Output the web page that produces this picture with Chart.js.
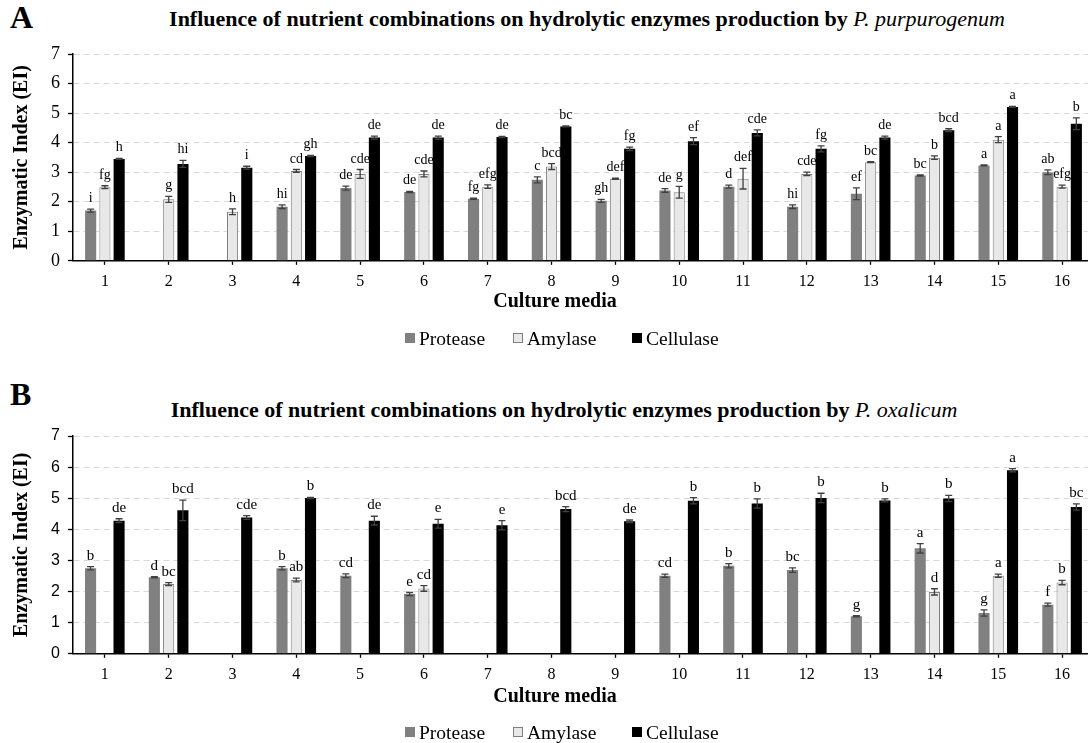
<!DOCTYPE html>
<html>
<head>
<meta charset="utf-8">
<script src="https://cdn.jsdelivr.net/npm/chart.js@4.4.0/dist/chart.umd.min.js"></script>
<style>
    body { margin: 0; width: 1088px; height: 743px; overflow: hidden; background: #fff; position: relative; font-family: "Liberation Serif", "Times New Roman", serif; color: #000; }
    .panel-letter { position: absolute; left: 10px; font-family: "Liberation Serif", serif; font-weight: bold; font-size: 32px; line-height: 32px; }
    .title { position: absolute; font-family: "Liberation Serif", serif; font-size: 22px; line-height: 22px; white-space: nowrap; transform: translateX(-50%); }
    .title b { font-weight: bold; }
    .title i { font-style: italic; font-weight: normal; }
    .x-title { position: absolute; font-family: "Liberation Serif", serif; font-weight: bold; font-size: 20px; line-height: 20px; white-space: nowrap; transform: translateX(-50%); }
    .chart-box { position: absolute; left: 0; }
    .legend-item { position: absolute; font-family: "Liberation Serif", "Times New Roman", serif; font-size: 19.5px; line-height: 19.5px; white-space: nowrap; }
    .swatch { position: absolute; width: 10px; height: 10px; box-sizing: border-box; }
</style>
</head>
<body>

<div class="panel-letter" style="top: 1px;">A</div>
<div class="title" style="left: 587px; top: 8px;"><b>Influence of nutrient combinations on hydrolytic enzymes production by </b><i>P. purpurogenum</i></div>
<div class="chart-box" style="top: 0px;"><canvas id="chartA" width="1100" height="330"></canvas></div>
<div class="x-title" style="left: 555px; top: 290px;">Culture media</div>
<div id="legendA"></div>

<div class="panel-letter" style="top: 378px;">B</div>
<div class="title" style="left: 564px; top: 399px;"><b>Influence of nutrient combinations on hydrolytic enzymes production by </b><i>P. oxalicum</i></div>
<div class="chart-box" style="top: 382px;"><canvas id="chartB" width="1100" height="341"></canvas></div>
<div class="x-title" style="left: 555px; top: 685px;">Culture media</div>
<div id="legendB"></div>

<script>
// Culture media (x categories)
const media = ['1', '2', '3', '4', '5', '6', '7', '8', '9', '10', '11', '12', '13', '14', '15', '16'];
const enzymes = ['Protease', 'Amylase', 'Cellulase'];

// Panel A - P. purpurogenum
const proteaseA  = [1.70, null, null, 1.83, 2.46, 2.33, 2.10, 2.74, 2.03, 2.38, 2.51, 1.83, 2.27, 2.89, 3.23, 3.00];
const amylaseA   = [2.49, 2.08, 1.66, 3.04, 2.94, 2.94, 2.51, 3.19, 2.78, 2.32, 2.78, 2.94, 3.34, 3.49, 4.10, 2.51];
const cellulaseA = [3.45, 3.28, 3.15, 3.55, 4.17, 4.17, 4.19, 4.55, 3.79, 4.05, 4.33, 3.79, 4.17, 4.42, 5.21, 4.64];
const proteaseErrA  = [0.05, null, null, 0.06, 0.07, 0.02, 0.02, 0.10, 0.05, 0.06, 0.05, 0.06, 0.20, 0.02, 0.02, 0.08];
const amylaseErrA   = [0.05, 0.10, 0.10, 0.05, 0.15, 0.10, 0.06, 0.10, 0.02, 0.20, 0.35, 0.06, 0.02, 0.06, 0.10, 0.05];
const cellulaseErrA = [0.02, 0.12, 0.05, 0.02, 0.05, 0.05, 0.02, 0.02, 0.06, 0.12, 0.10, 0.10, 0.05, 0.05, 0.02, 0.20];
const proteaseLetA  = ['i', '', '', 'hi', 'de', 'de', 'fg', 'c', 'gh', 'de', 'd', 'hi', 'ef', 'bc', 'a', 'ab'];
const amylaseLetA   = ['fg', 'g', 'h', 'cd', 'cde', 'cde', 'efg', 'bcd', 'def', 'g', 'def', 'cde', 'bc', 'b', 'a', 'efg'];
const cellulaseLetA = ['h', 'hi', 'i', 'gh', 'de', 'de', 'de', 'bc', 'fg', 'ef', 'cde', 'fg', 'de', 'bcd', 'a', 'b'];

// Panel B - P. oxalicum
const proteaseB  = [2.75, 2.46, null, 2.75, 2.51, 1.92, null, null, null, 2.51, 2.83, 2.69, 1.21, 3.39, 1.31, 1.58];
const amylaseB   = [null, 2.24, null, 2.37, null, 2.10, null, null, null, null, null, null, null, 1.99, 2.51, 2.29];
const cellulaseB = [4.28, 4.61, 4.38, 5.01, 4.28, 4.18, 4.13, 4.65, 4.26, 4.92, 4.83, 5.01, 4.93, 4.99, 5.90, 4.72];
const proteaseErrB  = [0.05, 0.02, null, 0.05, 0.06, 0.05, null, null, null, 0.05, 0.07, 0.07, 0.02, 0.15, 0.10, 0.05];
const amylaseErrB   = [null, 0.05, null, 0.06, null, 0.09, null, null, null, null, null, null, null, 0.10, 0.05, 0.07];
const cellulaseErrB = [0.06, 0.33, 0.06, 0.02, 0.14, 0.14, 0.15, 0.08, 0.04, 0.10, 0.15, 0.15, 0.05, 0.10, 0.05, 0.10];
const proteaseLetB  = ['b', 'd', '', 'b', 'cd', 'e', '', '', '', 'cd', 'b', 'bc', 'g', 'a', 'g', 'f'];
const amylaseLetB   = ['', 'bc', '', 'ab', '', 'cd', '', '', '', '', '', '', '', 'd', 'a', 'b'];
const cellulaseLetB = ['de', 'bcd', 'cde', 'b', 'de', 'e', 'e', 'bcd', 'de', 'b', 'b', 'b', 'b', 'b', 'a', 'bc'];

const yTicks = [0, 1, 2, 3, 4, 5, 6, 7];

const SERIF = '"Liberation Serif", "Times New Roman", serif';
const SANS = '"Liberation Sans", Arial, sans-serif';
const colors = {
    Protease:  { fill: '#808080', border: '#808080' },
    Amylase:   { fill: '#e8e8e8', border: '#7f7f7f' },
    Cellulase: { fill: '#000000', border: '#000000' }
};

// Error bars + significance letters on top of each bar
const errorLetters = {
    id: 'errorLetters',
    afterDatasetsDraw(chart, args, opts) {
        const ctx = chart.ctx;
        const yScale = chart.scales.y;
        chart.data.datasets.forEach((ds, i) => {
            const meta = chart.getDatasetMeta(i);
            meta.data.forEach((bar, j) => {
                const v = ds.data[j];
                if (v === null || v === undefined) return;
                const err = ds.errors[j] || 0;
                const x = bar.x;
                const yTop = yScale.getPixelForValue(v + err);
                const yBot = yScale.getPixelForValue(v - err);
                ctx.save();
                ctx.strokeStyle = '#404040';
                ctx.lineWidth = 1.3;
                ctx.beginPath();
                ctx.moveTo(x, yTop); ctx.lineTo(x, yBot);
                ctx.moveTo(x - 3.5, yTop); ctx.lineTo(x + 3.5, yTop);
                ctx.moveTo(x - 3.5, yBot); ctx.lineTo(x + 3.5, yBot);
                ctx.stroke();
                const letter = ds.letters[j];
                if (letter) {
                    ctx.fillStyle = '#000';
                    ctx.font = opts.letterSize + 'px ' + SERIF;
                    ctx.textAlign = 'center';
                    ctx.textBaseline = 'alphabetic';
                    ctx.fillText(letter, x, yTop - 7);
                }
                ctx.restore();
            });
        });
    }
};

function makeDatasets(values, errors, letters) {
    return enzymes.map((name, k) => ({
        label: name,
        data: values[k],
        errors: errors[k],
        letters: letters[k],
        backgroundColor: colors[name].fill,
        borderColor: colors[name].border,
        borderWidth: name === 'Amylase' ? 1 : 0,
        borderSkipped: 'bottom',
        categoryPercentage: 0.67,
        barPercentage: 0.78
    }));
}

function makeChart(canvasId, datasets, yTickFont, letterSize) {
    return new Chart(document.getElementById(canvasId), {
        type: 'bar',
        data: { labels: media, datasets: datasets },
        plugins: [errorLetters],
        options: {
            responsive: false,
            animation: false,
            layout: { padding: { left: 0, right: 6, top: 54, bottom: 32 } },
            plugins: {
                legend: { display: false },
                tooltip: { enabled: false },
                errorLetters: { letterSize: letterSize }
            },
            scales: {
                x: {
                    grid: { drawOnChartArea: false, offset: false, tickLength: 4, tickColor: '#000', tickWidth: 1.3 },
                    border: { color: '#000', width: 1.5 },
                    ticks: { font: { family: SERIF, size: 16 }, color: '#000', padding: 7, maxRotation: 0 }
                },
                y: {
                    min: 0, max: 7,
                    afterBuildTicks: scale => { scale.ticks = yTicks.map(v => ({ value: v })); },
                    grid: { color: '#d9d9d9', lineWidth: 1, tickColor: '#000', tickLength: 5, tickWidth: 1.3 },
                    border: { color: '#000', width: 1.5, dash: [6, 4] },
                    ticks: { font: yTickFont, color: '#000', padding: 8 },
                    title: {
                        display: true, text: 'Enzymatic Index (EI)', color: '#000',
                        font: { family: SERIF, size: 20, weight: 'bold' },
                        padding: { top: 10, bottom: 9 }
                    }
                }
            }
        }
    });
}

function buildLegend(containerId, top) {
    const lefts = [405, 513, 632];
    const box = document.getElementById(containerId);
    enzymes.forEach((name, k) => {
        const sw = document.createElement('div');
        sw.className = 'swatch';
        sw.style.left = lefts[k] + 'px';
        sw.style.top = (top + 4) + 'px';
        sw.style.background = colors[name].fill;
        if (name === 'Amylase') sw.style.border = '1px solid ' + colors[name].border;
        box.appendChild(sw);
        const txt = document.createElement('div');
        txt.className = 'legend-item';
        txt.style.left = (lefts[k] + 14) + 'px';
        txt.style.top = top + 'px';
        txt.textContent = name;
        box.appendChild(txt);
    });
}

makeChart('chartA',
    makeDatasets([proteaseA, amylaseA, cellulaseA], [proteaseErrA, amylaseErrA, cellulaseErrA], [proteaseLetA, amylaseLetA, cellulaseLetA]),
    { family: SERIF, size: 18 }, 14);

makeChart('chartB',
    makeDatasets([proteaseB, amylaseB, cellulaseB], [proteaseErrB, amylaseErrB, cellulaseErrB], [proteaseLetB, amylaseLetB, cellulaseLetB]),
    { family: SANS, size: 16 }, 15);

buildLegend('legendA', 329);
buildLegend('legendB', 723);
</script>
</body>
</html>
